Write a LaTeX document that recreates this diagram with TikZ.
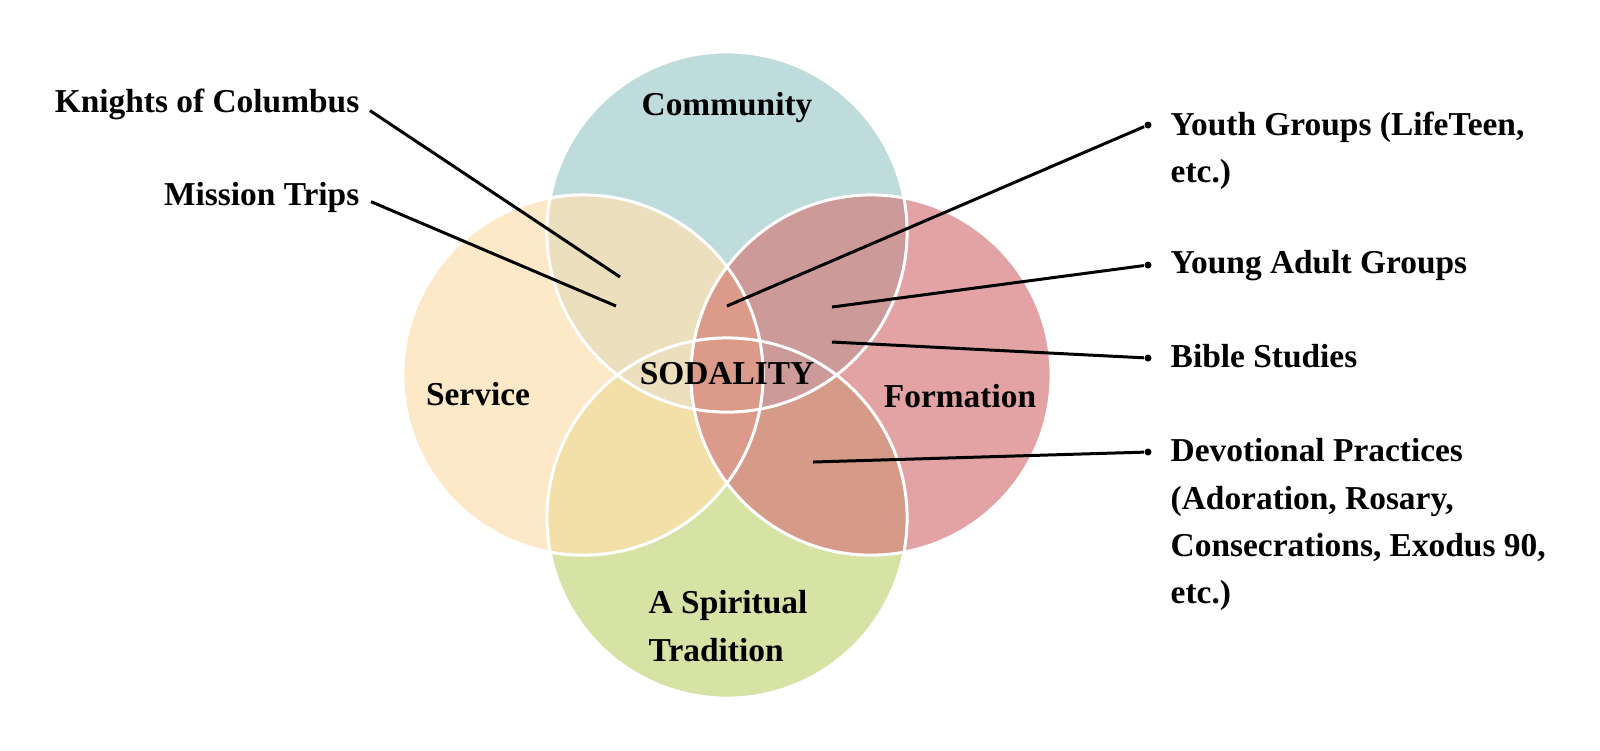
\documentclass[tikz,border=0pt]{standalone}
\usepackage{fontspec}
\setmainfont{Liberation Serif}

\definecolor{comclr}{HTML}{BEDCDC}
\definecolor{serclr}{HTML}{FDE9C8}
\definecolor{frmclr}{HTML}{E3A3A5}
\definecolor{traclr}{HTML}{D7E2A5}
\definecolor{comser}{HTML}{EBDFBD}
\definecolor{comfrm}{HTML}{CD9A9A}
\definecolor{sertra}{HTML}{F3E0A8}
\definecolor{frmtra}{HTML}{D69A88}
\definecolor{serfrm}{HTML}{DC9A8A}

\tikzset{
  lbl/.style={font=\fontsize{9.5}{13.4}\selectfont\bfseries, inner sep=0pt},
  rim/.style={draw=white, line width=0.85pt},
  leader/.style={draw=black, line width=0.85pt},
  dot/.style={circle, fill=black, inner sep=0pt, minimum size=0.7mm}
}

\begin{document}
\begin{tikzpicture}[x=0.01cm, y=-0.01cm]

  \fill[white] (0,0) rectangle (1600,750);

  \coordinate (com) at (727,232);
  \coordinate (ser) at (583,375);
  \coordinate (frm) at (871,375);
  \coordinate (tra) at (727,518);

  \fill[comclr] (com) circle [radius=1.8cm];
  \fill[serclr] (ser) circle [radius=1.8cm];
  \fill[frmclr] (frm) circle [radius=1.8cm];
  \fill[traclr] (tra) circle [radius=1.8cm];

  % overlaps
  \begin{scope}
    \clip (tra) circle [radius=1.8cm];
    \fill[sertra] (ser) circle [radius=1.8cm];
    \fill[frmtra] (frm) circle [radius=1.8cm];
  \end{scope}
  \begin{scope}
    \clip (com) circle [radius=1.8cm];
    \fill[comser] (ser) circle [radius=1.8cm];
    \fill[comfrm] (frm) circle [radius=1.8cm];
  \end{scope}
  \begin{scope}
    \clip (ser) circle [radius=1.8cm];
    \fill[serfrm] (frm) circle [radius=1.8cm];
  \end{scope}

  \foreach \c in {com,ser,frm,tra}
    \draw[rim] (\c) circle [radius=1.8cm];

  \node[lbl, anchor=base] (comlbl) at (727,115) {Community};
  \node[lbl, anchor=base] (serlbl) at (478,405) {Service};
  \node[lbl, anchor=base] (frmlbl) at (960,407) {Formation};
  \node[lbl, anchor=base] (center) at (727,384) {SODALITY};
  \node[lbl, align=left, anchor=north west] (tralbl) at (648,590) {A Spiritual\\Tradition};

  % left side
  \node[lbl, anchor=base east] (kofc) at (360,112) {Knights of Columbus};
  \node[lbl, anchor=base east] (mission) at (360,205) {Mission Trips};
  \coordinate (kofc-in) at (620,277);
  \coordinate (mission-in) at (616,306);
  \draw[leader, shorten <=0.12cm] (kofc.east) -- (kofc-in);
  \draw[leader, shorten <=0.12cm] (mission.east) -- (mission-in);

  % right side
  \node[dot] (youth-dot) at (1148,125) {};
  \node[dot] (yadult-dot) at (1148,265) {};
  \node[dot] (bible-dot) at (1148,358) {};
  \node[dot] (devot-dot) at (1148,452) {};

  \node[lbl, align=left, anchor=north west] (youth) at (1170,111) {Youth Groups (LifeTeen,\\etc.)};
  \node[lbl, anchor=base west] (yadult) at (1170,273) {Young Adult Groups};
  \node[lbl, anchor=base west] (bible) at (1170,367) {Bible Studies};
  \node[lbl, align=left, anchor=north west] (devot) at (1170,438)
    {Devotional Practices\\(Adoration, Rosary,\\Consecrations, Exodus 90,\\etc.)};

  \coordinate (youth-in) at (727,306);
  \coordinate (yadult-in) at (832,307);
  \coordinate (bible-in) at (832,342);
  \coordinate (devot-in) at (813,462);
  \draw[leader] (youth-in) -- (youth-dot);
  \draw[leader] (yadult-in) -- (yadult-dot);
  \draw[leader] (bible-in) -- (bible-dot);
  \draw[leader] (devot-in) -- (devot-dot);
\end{tikzpicture}
\end{document}
